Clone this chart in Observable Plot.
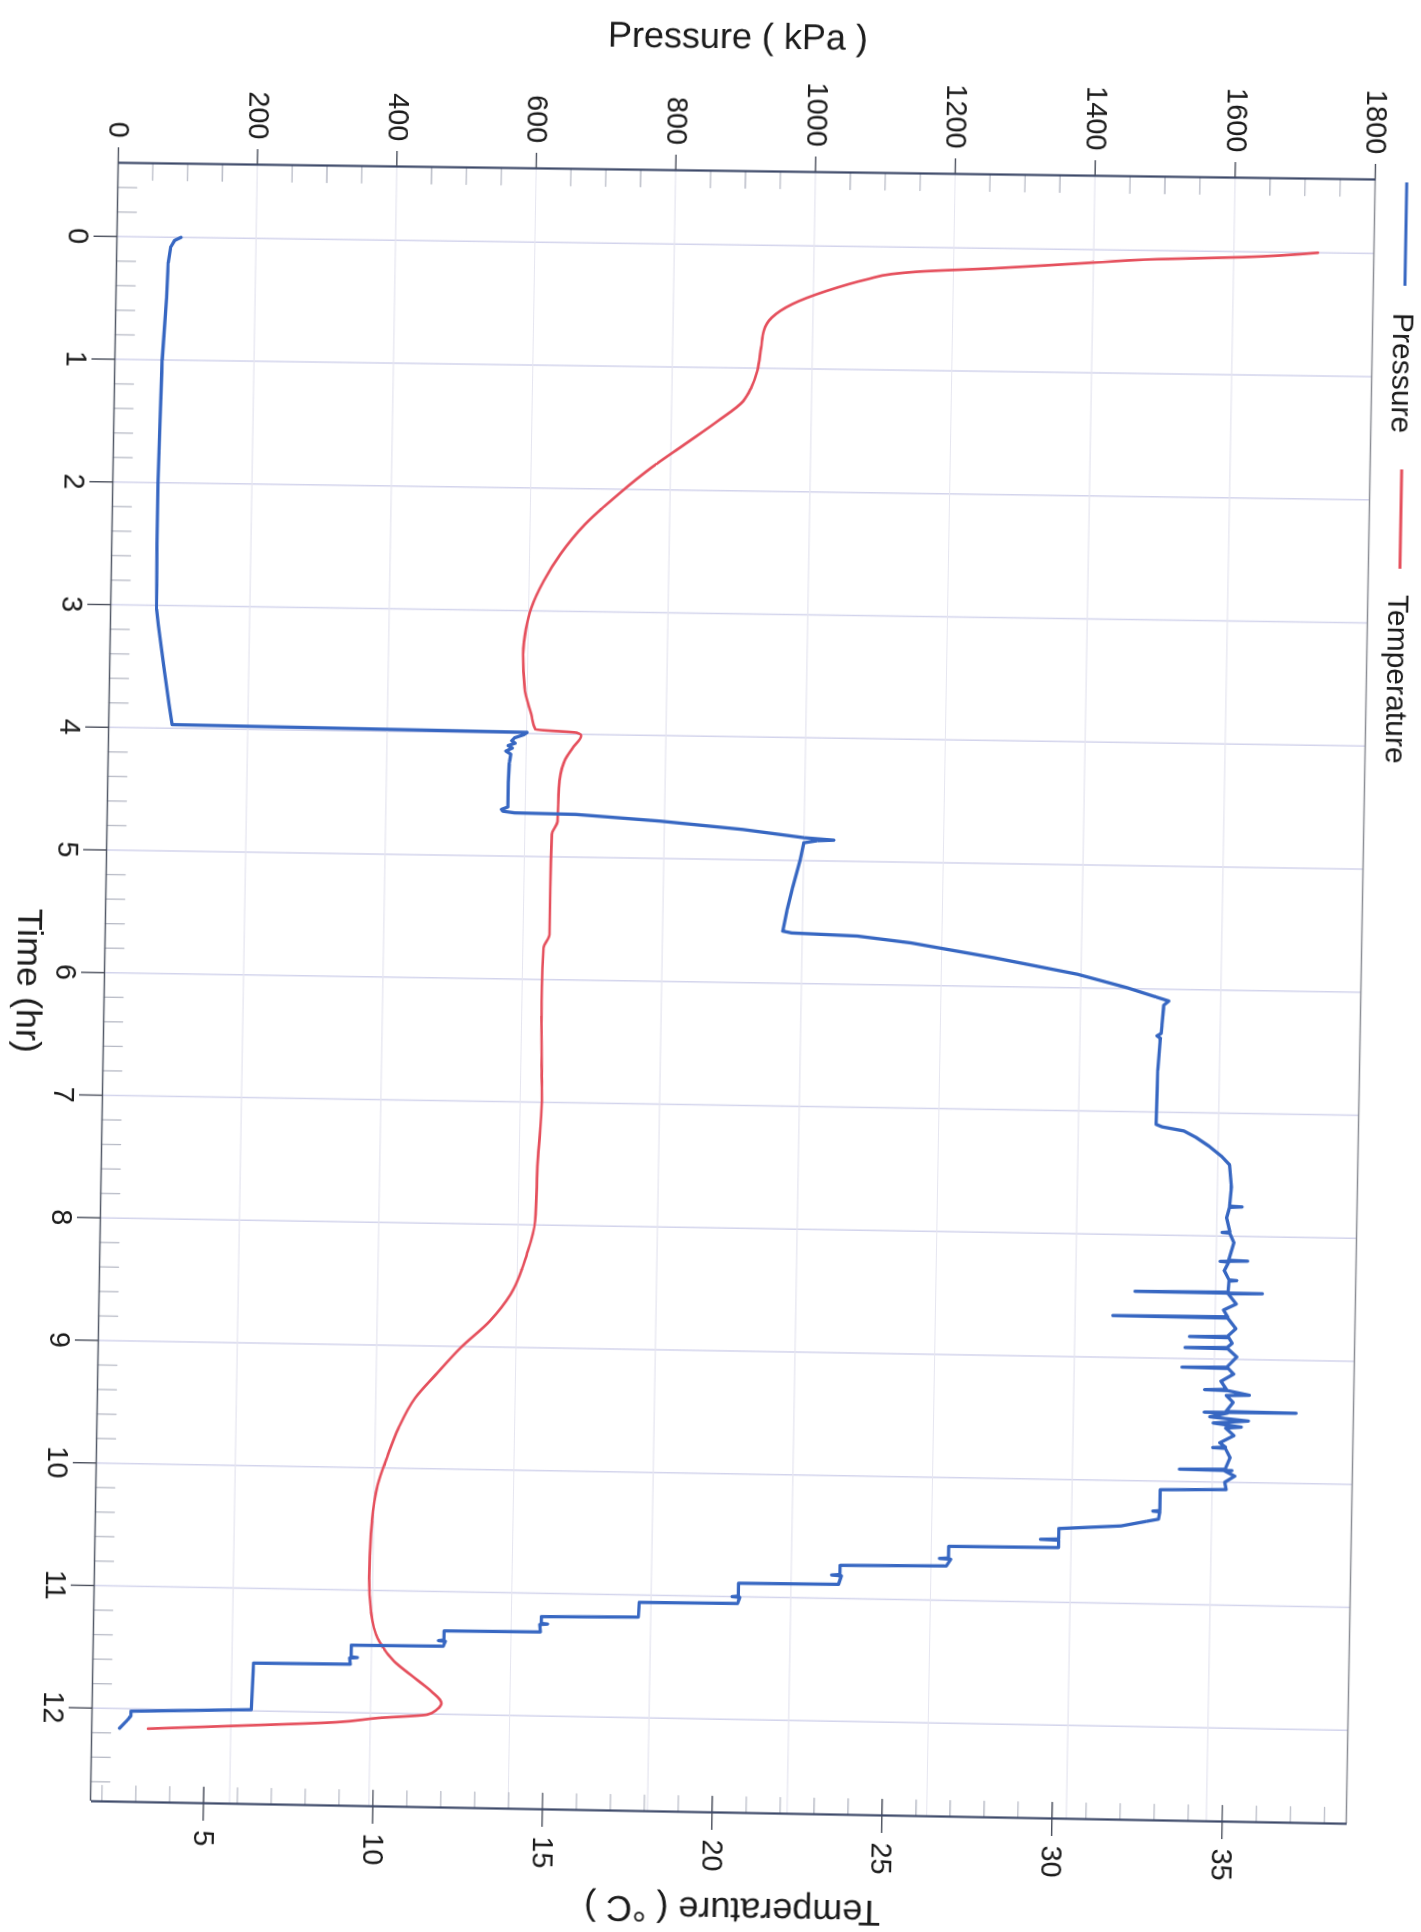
<!DOCTYPE html>
<html><head><meta charset="utf-8">
<script src="https://cdn.jsdelivr.net/npm/d3@7"></script>
<script src="https://cdn.jsdelivr.net/npm/@observablehq/plot@0.6"></script>
<style>
html,body{margin:0;padding:0;background:#fff;width:1421px;height:1932px;overflow:hidden;}
#wrap{position:absolute;left:0;top:0;transform-origin:0 0;}
#wrap svg{display:block;overflow:visible;max-width:none !important;}
</style></head>
<body><div id="wrap"></div>
<script>
// ---------- data ----------
const timeTicks = [0,1,2,3,4,5,6,7,8,9,10,11,12];
const pressureTicks = [0,200,400,600,800,1000,1200,1400,1600,1800];
const temperatureTicks = [5,10,15,20,25,30,35];

const pressureTime = [0.000,0.025,0.080,0.210,0.490,1.000,1.500,2.000,2.500,3.030,3.160,3.350,3.540,3.800,3.970,3.990,4.010,4.036,4.060,4.080,4.100,4.120,4.145,4.170,4.250,4.400,4.600,4.620,4.635,4.647,4.652,4.696,4.754,4.814,4.830,4.836,4.855,5.000,5.223,5.400,5.576,5.590,5.607,5.656,5.766,5.890,5.993,6.060,6.096,6.130,6.360,6.380,6.400,6.660,7.100,7.120,7.150,7.200,7.270,7.350,7.420,7.600,
7.755,7.760,7.765,7.850,7.965,7.970,7.975,8.050,8.195,8.200,8.205,8.210,8.280,8.355,8.360,8.365,8.455,8.460,8.463,8.468,8.550,8.600,8.655,8.660,8.665,8.750,8.815,8.820,8.825,8.870,8.905,8.910,8.915,8.980,9.065,9.070,9.075,9.120,9.180,9.245,9.250,9.255,9.290,9.295,9.350,9.425,9.430,9.433,9.438,9.470,9.500,9.520,9.550,9.560,9.620,9.680,9.715,9.720,9.725,9.800,9.895,9.900,9.905,9.910,9.950,10.000,10.060,
10.070,10.240,10.245,10.250,10.310,10.370,10.400,10.485,10.490,10.495,10.555,10.560,10.655,10.660,10.665,10.720,10.730,10.805,10.810,10.815,10.885,10.890,10.995,11.000,11.005,11.055,11.060,11.180,11.190,11.245,11.250,11.255,11.315,11.320,11.395,11.400,11.405,11.445,11.450,11.545,11.550,11.555,11.605,11.610,11.800,11.990,12.020,12.060,12.100,12.160];
const pressureKPa = [92,83,77.5,74.4,72.8,68,66.5,65,65,66,69,74,79,86,91,601,596,583,579,584,574,580,571,578,576,575,575,566,568,585,672,793,912,1001,1043,1020,1000,995,985,978,972,985,1079,1156,1275,1395,1466,1505,1526,1519,1516,1510,1515,1512,1511,1520,1551,1568,1587,1605,1617,1620,
1618,1636,1618,1614,1619,1608,1619,1625,1618,1645,1606,1618,1612,1619,1630,1619,1618,1485,1667,1618,1630,1612,1618,1454,1618,1630,1618,1564,1620,1625,1618,1558,1619,1632,1618,1554,1620,1628,1610,1618,1587,1620,1651,1618,1628,1618,1718,1587,1620,1595,1650,1600,1640,1618,1630,1610,1618,1600,1618,1625,1618,1553,1628,1618,1632,1618,1620,
1526,1526,1516,1526,1524,1471,1382,1382,1356,1382,1382,1225,1225,1212,1228,1222,1070,1070,1058,1072,1068,925,925,916,927,924,783,782,643,643,652,641,642,504,504,496,506,503,371,371,380,369,370,231,230,229,56,56,50,40];

const temperatureTime = [0.000,0.044,0.070,0.115,0.162,0.197,0.220,0.264,0.364,0.475,0.587,0.696,0.832,1.021,1.158,1.270,1.433,1.626,1.820,2.040,2.290,2.536,2.756,2.975,3.150,3.355,3.627,3.843,3.965,3.987,4.010,4.110,4.220,4.438,4.710,4.818,5.253,5.633,5.743,6.070,6.748,6.990,7.480,7.970,8.243,8.570,8.790,9.010,9.233,9.427,9.673,9.900,10.140,10.540,10.900,11.170,11.390,11.576,11.710,11.815,11.909,11.960,12.005,12.040,12.080,12.120,12.160];
const temperatureC = [37.0,34.8,32.3,29.9,27.5,25.3,24.5,23.8,22.6,21.6,21.0,20.77,20.7,20.6,20.43,20.2,19.47,18.51,17.54,16.58,15.61,14.9,14.42,14.07,13.92,13.85,13.91,14.12,14.25,15.47,15.6,15.36,15.12,14.97,14.95,14.79,14.77,14.77,14.6,14.57,14.61,14.63,14.54,14.49,14.26,13.8,13.2,12.36,11.64,11.04,10.57,10.26,9.98,9.81,9.78,9.85,10.06,10.56,11.18,11.67,11.97,11.85,11.56,10.1,8.88,6.19,3.33];

// ---------- layout ----------
const ml = 170, mr = 130, mt = 50, mb = 110, Wf = 1640, Hf = 1257;
const W = ml + Wf + mr, H = mt + Hf + mb;
const xDomain = [-0.601, 12.760];
const pDomain = [0, 1800];
const tDomain = [1.663, 38.643];
const tempToP = T => (T - tDomain[0]) / (tDomain[1] - tDomain[0]) * pDomain[1];

const pressureData = pressureTime.map((t, i) => ({t, v: pressureKPa[i]}));
const temperatureData = temperatureTime.map((t, i) => ({t, v: tempToP(temperatureC[i])}));

const minorTime = d3.range(-2, 64).map(i => i / 5).filter(t => Math.abs(t - Math.round(t)) > 1e-6 && t < xDomain[1]);
const minorPressure = d3.range(50, 1800, 50).filter(p => p % 200 !== 0);
const minorTemp = d3.range(2, 39).filter(T => T % 5 !== 0);
const tempTickPos = temperatureTicks.map(tempToP);
const tempLabel = new Map(temperatureTicks.map(T => [tempToP(T), String(T)]));

const blue = "#3767c2", red = "#e5505d";
const axisDark = "#3c4868";

const chart = Plot.plot({
  width: W, height: H,
  marginLeft: ml, marginRight: mr, marginTop: mt, marginBottom: mb,
  x: {domain: xDomain},
  y: {domain: pDomain},
  style: {fontFamily: "'Liberation Sans', Arial, Helvetica, sans-serif", fontSize: "29px", color: "#1c1c1c", background: "transparent"},
  marks: [
    Plot.gridX(timeTicks, {stroke: "#d3d4ec", strokeOpacity: 1, strokeWidth: 1.5}),
    Plot.gridY(pressureTicks.slice(1, -1), {stroke: "#e6e6f0", strokeOpacity: 1, strokeWidth: 1.2}),
    Plot.vector(minorTime, {x: d => d, y: d => pDomain[0], length: 19, rotate: 0, anchor: "start", r: 0, stroke: "#b8bbc6", strokeWidth: 1.3}),
    Plot.vector(minorPressure, {x: d => xDomain[0], y: d => d, length: 17, rotate: 90, anchor: "start", r: 0, stroke: "#b8bbc6", strokeWidth: 1.3}),
    Plot.vector(minorTemp, {x: d => xDomain[1], y: d => tempToP(d), length: 16, rotate: 270, anchor: "start", r: 0, stroke: "#b8bbc6", strokeWidth: 1.3}),
    Plot.vector(temperatureTicks, {x: d => xDomain[1], y: d => tempToP(d), length: 16, rotate: 270, anchor: "start", r: 0, stroke: "#4a4f5c", strokeWidth: 1.4}),
    Plot.line(temperatureData, {x: "t", y: "v", stroke: red, strokeWidth: 2.7, strokeLinejoin: "round", curve: "monotone-x"}),
    Plot.line(pressureData, {x: "t", y: "v", stroke: blue, strokeWidth: 3.3, strokeLinejoin: "round"}),
    Plot.ruleY([pDomain[1]], {stroke: "#8d8f96", strokeWidth: 1.4}),
    Plot.ruleY([pDomain[0]], {stroke: "#555b69", strokeWidth: 1.6}),
    Plot.ruleX([xDomain[0]], {stroke: axisDark, strokeWidth: 2.2}),
    Plot.ruleX([xDomain[1]], {stroke: axisDark, strokeWidth: 2.2}),
    Plot.axisX(timeTicks, {anchor: "bottom", tickSize: 24, tickPadding: 4, label: null, tickFormat: d => String(d), stroke: "#4a4f5c", strokeWidth: 1.4, fill: "#1c1c1c"}),
    Plot.axisY(pressureTicks, {anchor: "left", tickSize: 15, tickPadding: 10, label: null, tickFormat: d => String(d), stroke: "#4a4f5c", strokeWidth: 1.4, fill: "#1c1c1c"}),
    Plot.axisY(tempTickPos, {anchor: "right", tickSize: 17, tickPadding: 10, label: null, tickFormat: v => tempLabel.get(v), stroke: "#4a4f5c", strokeWidth: 1.4, fill: "#1c1c1c"})
  ]
});

// ---------- titles & legend ----------
const sx = chart.scale("x"), sy = chart.scale("y");
const svg = d3.select(chart);
const font = "'Liberation Sans', Arial, Helvetica, sans-serif";
svg.append("text")
  .attr("transform", `translate(${ml - 122},${sy.apply(885)}) rotate(-90)`)
  .attr("text-anchor", "middle").attr("font-size", 36).attr("font-family", font).attr("fill", "#1c1c1c")
  .text("Pressure ( kPa )");
svg.append("text")
  .attr("transform", `translate(${ml + Wf / 2},${mt + Hf + 88})`)
  .attr("text-anchor", "middle").attr("font-size", 36).attr("font-family", font).attr("fill", "#1c1c1c")
  .text("Time (hr)");
svg.append("text")
  .attr("transform", `translate(${ml + Wf + 86},${sy.apply(923)}) rotate(90)`)
  .attr("text-anchor", "middle").attr("font-size", 36).attr("font-family", font).attr("fill", "#1c1c1c")
  .text("Temperature ( °C )");

const lg = svg.append("g").attr("transform", `translate(${ml},${mt - 31})`)
  .attr("font-size", 30).attr("font-family", font).attr("fill", "#1c1c1c").attr("text-anchor", "start");
lg.append("line").attr("x1", 3).attr("x2", 106).attr("stroke", blue).attr("stroke-width", 3);
lg.append("text").attr("x", 133).attr("dy", "0.35em").attr("text-anchor", "start").text("Pressure");
lg.append("line").attr("x1", 289).attr("x2", 388).attr("stroke", red).attr("stroke-width", 3);
lg.append("text").attr("x", 414).attr("dy", "0.35em").attr("text-anchor", "start").text("Temperature");

// ---------- place the chart as in the scan (rotated, slightly skewed) ----------
const wrap = document.getElementById("wrap");
wrap.style.width = W + "px"; wrap.style.height = H + "px";
wrap.appendChild(chart);

function homography(src, dst) {
  const A = [], b = [];
  for (let i = 0; i < 4; i++) {
    const [x, y] = src[i], [X, Y] = dst[i];
    A.push([x, y, 1, 0, 0, 0, -x * X, -y * X]); b.push(X);
    A.push([0, 0, 0, x, y, 1, -x * Y, -y * Y]); b.push(Y);
  }
  const n = 8;
  for (let c = 0; c < n; c++) {
    let p = c;
    for (let r = c + 1; r < n; r++) if (Math.abs(A[r][c]) > Math.abs(A[p][c])) p = r;
    [A[c], A[p]] = [A[p], A[c]]; [b[c], b[p]] = [b[p], b[c]];
    for (let r = 0; r < n; r++) {
      if (r === c) continue;
      const f = A[r][c] / A[c][c];
      for (let k = c; k < n; k++) A[r][k] -= f * A[c][k];
      b[r] -= f * b[c];
    }
  }
  return b.map((v, i) => v / A[i][i]);
}
const src = [[ml, mt + Hf], [ml, mt], [ml + Wf, mt + Hf], [ml + Wf, mt]];
const dst = [[118.7, 162.3], [1375.7, 179.0], [91.0, 1800.7], [1346.7, 1823.3]];
const h = homography(src, dst);
wrap.style.transform = `matrix3d(${h[0]},${h[3]},0,${h[6]},${h[1]},${h[4]},0,${h[7]},0,0,1,0,${h[2]},${h[5]},0,1)`;
</script>
</body></html>
